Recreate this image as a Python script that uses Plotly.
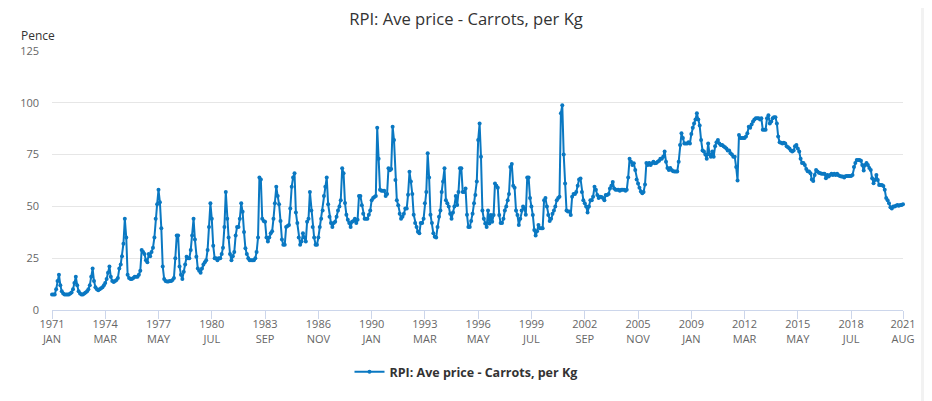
import plotly.graph_objects as go
import pandas as pd

# monthly average price, pence per kg
prices_1970s = [
    7.5, 7.5, 7.5, 10, 14, 17, 12, 9, 8, 7.5, 7.5, 7.5,          # 1971
    7.5, 8, 8.5, 10, 13, 16, 12, 9, 8, 7.5, 7.5, 8,              # 1972
    8.5, 9, 10, 12, 16, 20, 14, 11, 10, 9.5, 10, 10.5,           # 1973
    11, 12, 13, 15, 18, 21, 16, 14, 13.5, 14, 14.5, 15.5,        # 1974
    20, 22, 26, 32, 44, 35, 17, 15.5, 15, 15, 15.5, 16,          # 1975
    16, 16, 17, 19, 29, 28, 27, 24, 23, 27, 26, 28,              # 1976
    30, 35, 44, 51, 58, 52, 39.5, 21, 15, 14, 13.7, 13.7,        # 1977
    14, 14, 14.5, 15.5, 25, 36, 36, 21, 17, 15, 18.5, 22,        # 1978
    25.7, 25, 25, 29, 36, 44, 34, 25.7, 20, 19, 18, 20,          # 1979
]
prices_1980s = [
    22, 23, 24, 29, 40, 51.5, 44, 31, 25, 25, 24, 25,
    25, 27, 30, 40, 57, 44, 35, 27, 24, 26, 28, 36,
    40, 40, 44, 51.5, 47.4, 37.6, 29.8, 27, 25, 24, 24, 24,
    24, 25, 28, 35, 64, 63, 44, 43, 42.6, 35, 33, 35,
    37, 38, 44, 51.5, 59.5, 55, 51, 43, 34, 31.5, 31.5, 40,
    40.5, 41, 49, 59.5, 64, 66, 47, 42, 35, 31.5, 33, 37,
    35, 33, 42.6, 44, 57, 48, 40, 35, 31.5, 31.5, 35, 40,
    44, 48, 55, 59.5, 64, 51, 45, 42, 40, 42, 42.6, 45,
    48, 50, 53, 68.4, 66, 51.6, 46, 43.5, 42, 40, 42.6, 43,
    44, 42, 43.5, 55, 55, 50.5, 46.5, 44, 44, 44, 46, 48,
]
prices_1990s = [
    53, 54, 54.5, 55, 88, 73, 58, 57.5, 57.5, 57.5, 55, 56,
    68.4, 67.5, 68, 88.5, 82, 62.7, 53, 50.5, 46.5, 44, 45, 46.5,
    49, 49, 55.6, 66.7, 62, 56, 46, 42, 40, 37.8, 37, 42,
    42, 44, 51.5, 57, 75.6, 64, 46, 42, 37, 35.4, 35, 40,
    45, 48, 57, 62, 68.4, 53, 51.5, 50, 46.5, 44, 47, 50,
    55, 50.7, 57, 68.4, 68.4, 57, 57, 58.6, 46, 40, 40, 43,
    46.5, 51.5, 55.5, 62, 82, 90, 74, 48, 44, 41.8, 40, 48,
    41.8, 45.8, 42.6, 45.8, 61, 60, 59, 45.8, 42, 42, 44, 48,
    50, 53, 56, 69, 70.5, 60, 59, 48, 45.8, 41, 44, 48,
    50, 49, 46, 64, 64, 54, 50, 45.8, 38.6, 36, 38, 41,
]
prices_2000s = [
    39.5, 39.5, 39.5, 53, 54, 50, 45.8, 43, 44, 46.5, 48, 50,
    53, 54, 54.7, 95, 98.8, 75, 61, 48, 47.5, 47.5, 45.8, 54.7,
    56, 56, 57, 60, 63, 63.5, 57, 53, 51.5, 50, 47, 50,
    53, 53, 54.7, 59.5, 58, 55.5, 54, 54.7, 54.5, 54, 53, 55.5,
    55.5, 56, 58.6, 60, 61.8, 58.6, 58, 58, 58, 57.6, 58, 58,
    58, 57.6, 58, 64, 73, 71.6, 70, 70.8, 67.6, 63, 61, 59,
    57.2, 56.4, 57, 60.6, 71, 70, 71, 70, 70.8, 71.6, 70.8, 71,
    71.6, 72, 73, 73, 74, 76.5, 71.6, 68.5, 67.6, 68.5, 67.6, 67,
    66.8, 66.8, 66.8, 71.6, 79.6, 85.3, 83, 80.4, 80.4, 80.4, 81, 80.4,
    85, 88, 90, 92, 95, 92, 89, 82, 77, 76.5, 75, 73,
]
prices_2010s = [
    80.4, 75, 74, 76.5, 74, 79, 81, 82, 80.4, 79.6, 79.6, 79,
    78.5, 78, 77, 77, 75.6, 75, 74, 74, 69, 62.5, 84.5, 83,
    83, 83, 83, 83.7, 85.3, 88.5, 88, 89.5, 91, 92, 92.5, 92.5,
    92.5, 92, 92.5, 87, 87, 87, 92.5, 94, 90, 91, 92.5, 93,
    93, 90, 83.7, 81, 80.7, 80.4, 80.7, 80.4, 79, 78.5, 78, 77,
    76.5, 77, 79, 79.6, 78, 76.5, 73, 71, 71, 70, 68, 67,
    66.8, 66, 63, 62.2, 65.2, 67.6, 66.8, 66.3, 66, 65.7, 65.7, 65.7,
    63.6, 65.2, 64.4, 65.2, 65.7, 65.2, 65.7, 65.2, 65.7, 65, 64.7, 64.4,
    64.4, 64, 64.5, 64.7, 64.7, 64.7, 64.7, 65.2, 69, 71, 72.4, 72.4,
    72.4, 72, 70, 67.3, 70, 71, 70, 68.5, 67.6, 63.6, 61.2, 62.7,
]
prices_2020s = [
    65.2, 62.7, 60.3, 60.3, 60.3, 59.8, 58, 54, 53, 51.5, 49.6, 49,
    50, 50, 50.3, 50.7, 50.3, 50.7, 50.7, 51,
]

tick_dates = ["1971-01", "1974-03", "1977-05", "1980-07", "1983-09", "1986-11",
              "1990-01", "1993-03", "1996-05", "1999-07", "2002-09", "2005-11",
              "2009-01", "2012-03", "2015-05", "2018-07", "2021-08"]
tick_text = ["1971<br>JAN", "1974<br>MAR", "1977<br>MAY", "1980<br>JUL", "1983<br>SEP",
             "1986<br>NOV", "1990<br>JAN", "1993<br>MAR", "1996<br>MAY", "1999<br>JUL",
             "2002<br>SEP", "2005<br>NOV", "2009<br>JAN", "2012<br>MAR", "2015<br>MAY",
             "2018<br>JUL", "2021<br>AUG"]

series_name = "RPI: Ave price - Carrots, per Kg"

prices = prices_1970s + prices_1980s + prices_1990s + prices_2000s + prices_2010s + prices_2020s
months = pd.date_range("1971-01-01", periods=len(prices), freq="MS")

blue = "#0a78c2"

# the page body has an 8px margin, so the figure is sized to fit the window
W, H = 924, 393
left, top, plot_w, plot_h = 44, 43, 851, 259

fig = go.Figure()
fig.add_trace(go.Scatter(
    x=months, y=prices, mode="lines+markers", name=series_name,
    line=dict(color=blue, width=2),
    marker=dict(color=blue, size=4),
    cliponaxis=False,
))

fig.update_layout(
    width=W, height=H,
    margin=dict(l=left, r=W - left - plot_w, t=top, b=H - top - plot_h, autoexpand=False),
    paper_bgcolor="white", plot_bgcolor="white",
    font=dict(family="Open Sans", color="#666666", size=11),
    title=dict(text=series_name, x=458 / W, xref="container", xanchor="center",
               y=1 - 11 / H, yref="container", yanchor="middle",
               font=dict(size=16.6, color="#333333")),
    showlegend=True,
    legend=dict(orientation="h", x=458 / W, xref="container", xanchor="center",
                y=1 - 364 / H, yref="container", yanchor="middle",
                font=dict(size=12.5, color="#333333", weight="bold")),
    annotations=[dict(text="Pence", xref="paper", yref="paper",
                      x=-33 / plot_w, y=(plot_h + 15) / plot_h, xanchor="left", yanchor="middle",
                      showarrow=False, font=dict(size=12, color="#333333"))],
    shapes=[dict(type="rect", xref="paper", yref="paper",
                 x0=(913 - left) / plot_w, x1=(W + 4 - left) / plot_w, y0=-1, y1=2,
                 fillcolor="#f2f2f2", line=dict(width=0), layer="below")],
)

fig.update_xaxes(
    range=[months[0], months[-1]],
    tickvals=[pd.Timestamp(d) for d in tick_dates], ticktext=tick_text,
    showgrid=False, showline=True, linecolor="#ccd6eb", linewidth=1,
    ticks="outside", ticklen=8, tickcolor="#ccd6eb", ticklabelstandoff=-4,
    tickfont=dict(size=11, color="#666666"), zeroline=False,
)
fig.update_yaxes(
    range=[0, 125], tickvals=[0, 25, 50, 75, 100, 125],
    showgrid=True, gridcolor="#e6e6e6", zeroline=False,
    ticks="", ticklabelstandoff=12,
    tickfont=dict(size=11, color="#666666"),
)

fig.write_html("out.html")
